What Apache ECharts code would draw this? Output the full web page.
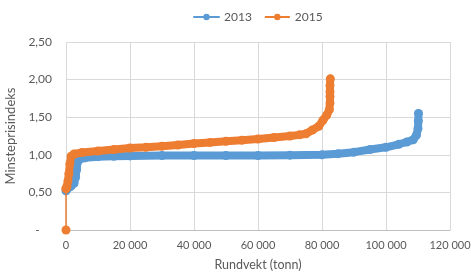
<!DOCTYPE html>
<html>
<head>
<meta charset="utf-8">
<script src="https://cdn.jsdelivr.net/npm/echarts@6/dist/echarts.min.js"></script>
<style>
  html, body { margin: 0; padding: 0; background: #fff; }
  #chart { width: 471px; height: 273px; }
</style>
</head>
<body>
<div id="chart"></div>
<script>
// Minsteprisindeks mot akkumulert rundvekt
var seriesNames = ['2013', '2015'];

// 2013: [rundvekt (tonn), indeks]
var points2013 = [
  [0, 0.52], [500, 0.55], [1500, 0.58], [2500, 0.62], [3000, 0.70],
  [3300, 0.80], [3600, 0.90], [4200, 0.94], [6000, 0.96], [10000, 0.975],
  [15000, 0.98], [20000, 0.985], [30000, 0.99], [40000, 0.99], [50000, 0.99],
  [60000, 0.99], [70000, 0.995], [80000, 1.0], [85000, 1.015], [90000, 1.035],
  [95000, 1.07], [100000, 1.10], [104000, 1.14], [106500, 1.17], [108500, 1.20],
  [109500, 1.26], [110000, 1.35], [110100, 1.45], [110150, 1.55]
];

// 2015: first point sits at 0
var start2015 = [[0, 0], [0, 0.55]];
var points2015 = [
  [0, 0.55], [300, 0.58], [600, 0.65], [900, 0.75], [1200, 0.88],
  [1600, 0.98], [2500, 1.01], [5000, 1.03], [10000, 1.05], [15000, 1.07],
  [20000, 1.09], [25000, 1.10], [30000, 1.115], [35000, 1.13], [40000, 1.15],
  [45000, 1.165], [50000, 1.18], [55000, 1.195], [60000, 1.21], [65000, 1.23],
  [70000, 1.25], [73000, 1.265], [75000, 1.28], [77000, 1.33], [79000, 1.38],
  [80300, 1.46], [81500, 1.53], [82300, 1.60], [82500, 1.69], [82500, 1.78],
  [82500, 1.84], [82500, 1.92], [82600, 2.01]
];

var yTicks = [0, 0.5, 1.0, 1.5, 2.0, 2.5];
var colors = ['#5b9bd5', '#ed7d31'];
var font = 'Lato';

var chart = echarts.init(document.getElementById('chart'));

function bandSeries(name, data, color) {
  return {
    name: name,
    type: 'line',
    data: data,
    symbol: 'circle',
    symbolSize: 9,
    showSymbol: true,
    itemStyle: { color: color },
    lineStyle: { color: color, width: 8, cap: 'round', join: 'round' },
    animation: false,
    z: name === '2015' ? 3 : 2
  };
}

chart.setOption({
  color: colors,
  textStyle: { fontFamily: font },
  legend: {
    data: seriesNames,
    top: 6,
    left: 188,
    itemWidth: 25,
    itemHeight: 8,
    itemGap: 12,
    textStyle: { color: '#595959', fontSize: 12, fontFamily: font },
    lineStyle: { width: 2 }
  },
  grid: { left: 66, right: 21, top: 42, bottom: 43, containLabel: false, outerBoundsMode: 'none' },
  xAxis: {
    type: 'value',
    min: 0,
    max: 120000,
    interval: 20000,
    name: 'Rundvekt (tonn)',
    nameLocation: 'middle',
    nameGap: 28,
    nameTextStyle: { color: '#595959', fontSize: 12.5, fontFamily: font },
    axisLine: { show: true, lineStyle: { color: '#bfbfbf' } },
    axisTick: { show: false },
    axisLabel: {
      color: '#595959',
      fontSize: 11,
      margin: 10,
      formatter: function (v) {
        return String(v).replace(/\B(?=(\d{3})+(?!\d))/g, ' ');
      }
    },
    splitLine: { show: true, lineStyle: { color: '#d9d9d9' } }
  },
  yAxis: {
    type: 'value',
    min: 0,
    max: 2.5,
    interval: 0.5,
    name: 'Minsteprisindeks',
    nameLocation: 'middle',
    nameGap: 44,
    nameTextStyle: { color: '#595959', fontSize: 13, fontFamily: font },
    axisLine: { show: false },
    axisTick: { show: false },
    axisLabel: {
      color: '#595959',
      fontSize: 12,
      margin: 14,
      formatter: function (v) {
        return v === 0 ? '-    ' : v.toFixed(2).replace('.', ',');
      }
    },
    splitLine: { show: true, lineStyle: { color: '#d9d9d9' } }
  },
  series: [
    bandSeries('2013', points2013, colors[0]),
    {
      name: '2015',
      type: 'line',
      data: start2015,
      symbol: 'circle',
      symbolSize: 9,
      itemStyle: { color: colors[1] },
      lineStyle: { color: colors[1], width: 1.5 },
      animation: false,
      z: 3
    },
    bandSeries('2015', points2015, colors[1])
  ]
});
</script>
</body>
</html>
